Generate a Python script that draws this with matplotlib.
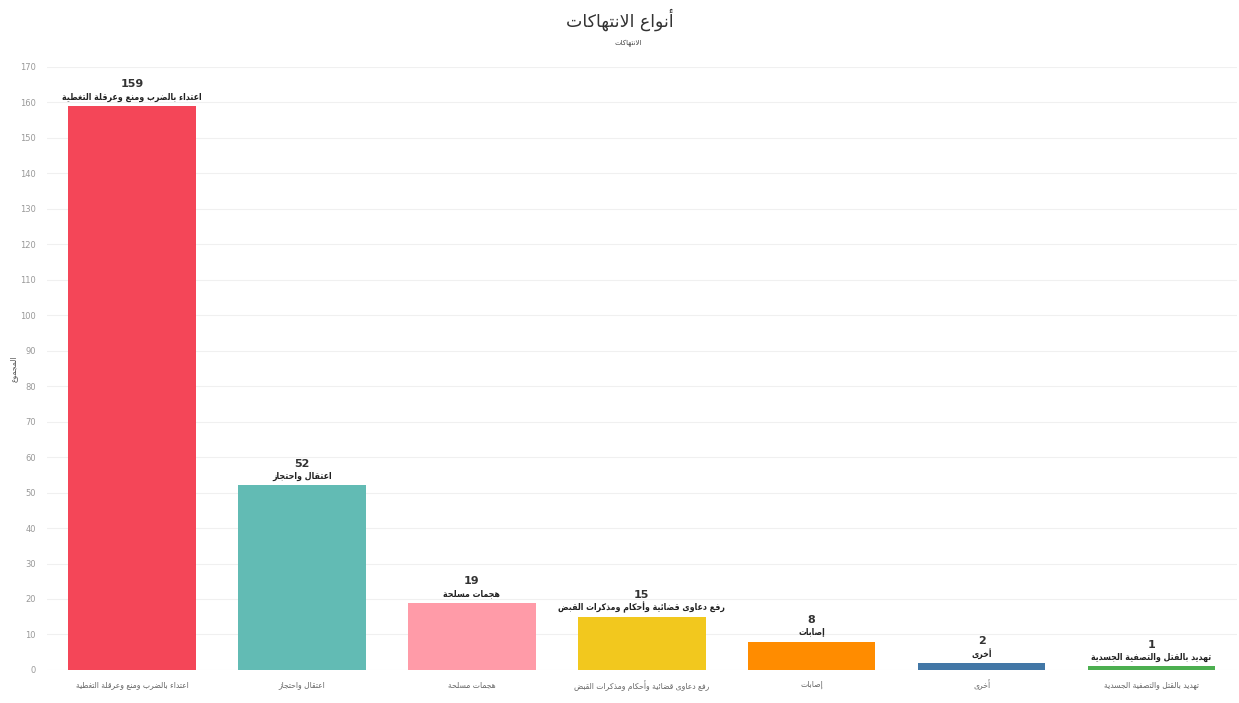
import matplotlib
matplotlib.use("Agg")
import matplotlib.pyplot as plt

# chart values
categories = ["اعتداء بالضرب ومنع وعرقلة التغطية", "اعتقال واحتجاز", "هجمات مسلحة",
              "رفع دعاوى قضائية وأحكام ومذكرات القبض", "إصابات", "أخرى",
              "تهديد بالقتل والتصفية الجسدية"]
totals = [159, 52, 19, 15, 8, 2, 1]
colors = ["#f44658", "#62bbb4", "#ff9ba8", "#f2c81e", "#ff8c00", "#4277a6", "#4caf50"]
title = "أنواع الانتهاكات"
subtitle = "الانتهاكات"
ylabel = "المجموع"

# --- minimal arabic shaping (matplotlib has no complex text layout) ---
_letters = "ءآأؤإئابةتثجحخدذرزسشصضطظعغفقكلمنهوىي"
_two = set("آأؤإاةدذرزوى")
FORMS = {}
code = 0xFE80
for ch in _letters:
    n = 1 if ch == "ء" else (2 if ch in _two else 4)
    f = [chr(code + k) for k in range(n)]
    FORMS[ch] = f + [None] * (4 - n)        # iso, fin, ini, med
    code += n
LAMALEF = {"آ": 0xFEF5, "أ": 0xFEF7, "إ": 0xFEF9, "ا": 0xFEFB}


def dual(ch):
    return ch in FORMS and FORMS[ch][2] is not None


def joins(ch):
    return ch in FORMS and ch != "ء"


def shape(s):
    out, i = [], 0
    while i < len(s):
        ch = s[i]
        prev = s[i - 1] if i > 0 else ""
        nxt = s[i + 1] if i + 1 < len(s) else ""
        if ch == "ل" and nxt in LAMALEF:
            base = LAMALEF[nxt]
            out.append(chr(base + 1) if dual(prev) else chr(base))
            i += 2
            continue
        if ch not in FORMS:
            out.append(ch); i += 1
            continue
        p = dual(prev) and joins(ch)
        n = dual(ch) and joins(nxt)
        iso, fin, ini, med = FORMS[ch]
        if p and n:
            g = med
        elif p:
            g = fin
        elif n:
            g = ini
        else:
            g = iso
        out.append(g or iso)
        i += 1
    return "".join(reversed(out))


plt.rcParams["font.family"] = ["DejaVu Sans"]

fig = plt.figure(figsize=(12.39, 7.03), dpi=100)
ax = fig.add_axes([0.038, 0.047, 0.960, 0.858])

x = list(range(len(categories)))
ax.bar(x, totals, width=0.75, color=colors, zorder=2)
for xi, v, c in zip(x, totals, categories):
    ax.annotate(shape(c), (xi, v), xytext=(0, 3), textcoords="offset points",
                ha="center", va="bottom", fontsize=6.3, fontweight="bold",
                fontstretch="condensed", color="#222222")
    ax.annotate(str(v), (xi, v), xytext=(0, 12), textcoords="offset points",
                ha="center", va="bottom", fontsize=8, fontweight="bold", color="#333333")

ax.set_xlim(-0.5, len(categories) - 0.5)
ax.set_ylim(0, 170)
ax.set_yticks(range(0, 171, 10))
ax.set_xticks(x)
ax.set_xticklabels([shape(c) for c in categories], fontsize=5.5, color="#666666")
ax.tick_params(axis="y", labelsize=6, colors="#999999", length=0, pad=8)
ax.tick_params(axis="x", length=0, pad=7)
ax.grid(axis="y", color="#f0f0f0", lw=0.8, zorder=0)
for sp in ax.spines.values():
    sp.set_visible(False)
ax.set_ylabel(shape(ylabel), fontsize=5.5, color="#555555", labelpad=2)

fig.text(0.5, 0.972, shape(title), ha="center", va="center", fontsize=12.5, color="#333333")
fig.text(0.507, 0.938, shape(subtitle), ha="center", va="center", fontsize=5, color="#444444")

fig.savefig("out.png", dpi=100, facecolor="white")
